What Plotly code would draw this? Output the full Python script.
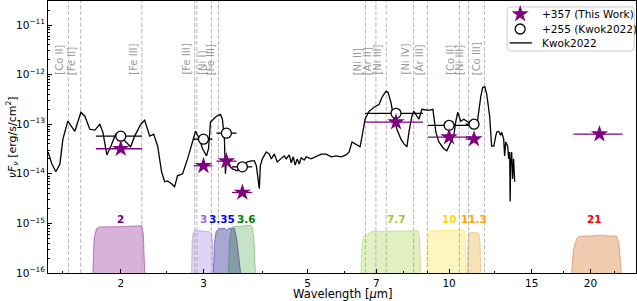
import math
import plotly.graph_objects as go

# ---------------- data ----------------
# Kwok2022 spectrum (wavelength in micron, nuFnu in erg/s/cm^2)
spec_wl = [1.400, 1.427, 1.455, 1.484, 1.506, 1.543, 1.597, 1.645, 1.677, 1.719,
           1.762, 1.805, 1.832, 1.868, 1.905, 1.951, 2.000, 2.040, 2.100, 2.141,
           2.206, 2.249, 2.305, 2.350, 2.397, 2.443, 2.480, 2.516, 2.566, 2.604,
           2.642, 2.708, 2.775, 2.844, 2.886, 2.943, 2.986, 3.045, 3.075, 3.105,
           3.150, 3.197, 3.260, 3.292, 3.324, 3.341, 3.357, 3.406, 3.457, 3.543,
           3.631, 3.721, 3.794, 3.850, 3.888, 3.926, 3.945, 3.964, 4.003, 4.083,
           4.143, 4.183, 4.245, 4.307, 4.392, 4.457, 4.501, 4.568, 4.613, 4.658,
           4.703, 4.750, 4.797, 4.844, 4.915, 4.964, 5.087, 5.213, 5.342, 5.474,
           5.610, 5.749, 5.891, 6.036, 6.126, 6.216, 6.339, 6.464, 6.528, 6.624,
           6.755, 6.922, 7.093, 7.198, 7.340, 7.413, 7.521, 7.632, 7.745, 7.898,
           8.015, 8.133, 8.213, 8.334, 8.416, 8.498, 8.624, 8.710, 8.752, 9.057,
           9.236, 9.373, 9.511, 9.746, 9.890, 10.09, 10.23, 10.33, 10.43, 10.59,
           10.75, 10.91, 11.12, 11.28, 11.45, 11.56, 11.68, 11.79, 11.91, 12.03,
           12.20, 12.32, 12.45, 12.57, 12.63, 12.75, 12.88, 12.94, 13.07, 13.13,
           13.20, 13.33, 13.39, 13.46, 13.49, 13.52, 13.59, 13.65, 13.72, 13.79]
spec_fl = [2.75e-14, 1.58e-14, 1.10e-14, 1.58e-14, 5.0e-14, 1.15e-13, 7.2e-14, 1.74e-13, 1.45e-13, 7.9e-14,
           7.6e-14, 1.0e-13, 6.9e-14, 2.4e-14, 3.6e-14, 6.3e-14, 6.3e-14, 4.6e-14, 3.5e-14, 5.75e-14,
           1.0e-13, 1.2e-13, 5.75e-14, 6.3e-14, 3.6e-14, 1.10e-14, 6.9e-15, 7.2e-15, 6.3e-15, 5.5e-15,
           9.1e-15, 1.0e-14, 2.0e-14, 4.4e-14, 7.2e-14, 5.0e-14, 3.2e-14, 2.3e-14, 3.2e-14, 1.1e-13,
           1.26e-13, 1.45e-13, 1.58e-13, 1.26e-13, 5.0e-14, 1.0e-14, 2.0e-14, 1.45e-14, 1.26e-14, 1.15e-14,
           1.38e-14, 1.74e-14, 1.82e-14, 1.82e-14, 1.45e-14, 6.3e-15, 5.0e-15, 1.45e-14, 2.0e-14, 2.75e-14,
           2.5e-14, 2.0e-14, 2.5e-14, 1.74e-14, 2.0e-14, 2.3e-14, 2.0e-14, 2.4e-14, 1.66e-14, 2.2e-14,
           1.5e-14, 2.0e-14, 1.58e-14, 2.1e-14, 1.9e-14, 2.2e-14, 2.0e-14, 2.2e-14, 2.5e-14, 2.5e-14,
           2.2e-14, 2.3e-14, 2.2e-14, 2.4e-14, 2.75e-14, 4.4e-14, 4.0e-14, 3.5e-14, 5.75e-14, 1.26e-13,
           1.82e-13, 2.2e-13, 2.5e-13, 3.5e-13, 4.6e-13, 4.4e-13, 2.75e-13, 1.26e-13, 7.9e-14, 5.0e-14,
           4.0e-14, 3.5e-14, 6.9e-14, 1.45e-13, 1.82e-13, 1.58e-13, 1.26e-13, 1.74e-13, 2.0e-13, 1.9e-13,
           2.0e-13, 6.9e-14, 4.4e-14, 3.2e-14, 2.9e-14, 4.4e-14, 5.75e-14, 1.1e-13, 1.74e-13, 1.15e-13,
           1.26e-13, 1.15e-13, 1.0e-13, 9.1e-14, 8.7e-14, 1.74e-13, 3.6e-13, 5.5e-13, 5.75e-13, 4.0e-13,
           1.45e-13, 3.6e-14, 3.6e-14, 5.75e-14, 6.9e-14, 7.2e-14, 6.0e-14, 6.9e-14, 5.0e-14, 2.3e-14,
           4.4e-14, 3.6e-14, 2.0e-14, 2.75e-14, 2.75e-15, 1.45e-14, 2.75e-14, 7.9e-15, 2.0e-14, 6.9e-15]

# photometry: +357 (This Work)
tw_wl = [2.0, 3.0, 3.357, 3.63, 7.71, 10.0, 11.3, 20.9]
tw_fl = [3.2e-14, 1.45e-14, 1.8e-14, 4.2e-15, 1.1e-13, 5.5e-14, 5.0e-14, 6.3e-14]
tw_lo = [0.23, 0.14, 0.16, 0.18, 1.09, 0.99, 0.46, 2.5]
tw_hi = [0.22, 0.135, 0.17, 0.18, 1.09, 1.12, 0.26, 2.5]

# photometry: +255 (Kwok2022)
kw_wl = [2.0, 3.0, 3.357, 3.63, 7.71, 10.0, 11.3]
kw_fl = [5.75e-14, 5.0e-14, 6.6e-14, 1.38e-14, 1.66e-13, 9.5e-14, 1.0e-13]
kw_lo = [0.23, 0.14, 0.16, 0.18, 1.09, 0.99, 0.46]
kw_hi = [0.22, 0.135, 0.17, 0.18, 1.09, 1.12, 0.26]

# emission line markers
line_wl = [1.547, 1.644, 2.218, 2.874, 2.905, 3.119, 3.229,
           6.636, 6.985, 7.349, 8.405, 8.991, 10.52, 11.00, 11.89]
line_lab = ["[Co II]", "[Fe II]", "[Fe III]", "[Fe III]", "", "[Ni I]", "[Fe III]",
            "[Ni II]", "[Ar II]", "[Ni III]", "[Ni IV]", "[Ar III]", "[Co II]", "[Ni III]", "[Co III]"]

# filter transmission curves (scaled)
filter_names = ["2", "3", "3.35", "3.6", "7.7", "10", "11.3", "21"]
filter_label_wl = [2.0, 3.0, 3.29, 3.70, 7.71, 10.0, 11.3, 20.4]
filter_wl = [
    [1.744, 1.755, 1.775, 1.80, 2.0, 2.15, 2.218, 2.235, 2.249],
    [2.83, 2.838, 2.855, 2.88, 3.0, 3.10, 3.125, 3.135, 3.14],
    [3.15, 3.165, 3.19, 3.23, 3.33, 3.36, 3.40, 3.49, 3.53, 3.60],
    [3.39, 3.41, 3.44, 3.47, 3.6, 3.78, 3.81, 3.84, 3.87],
    [6.49, 6.53, 6.60, 6.66, 6.85, 7.3, 8.0, 8.58, 8.65, 8.70],
    [8.97, 8.99, 9.04, 9.10, 10.0, 10.7, 10.78, 10.83, 10.86],
    [10.91, 10.95, 11.00, 11.07, 11.3, 11.5, 11.58, 11.64, 11.68],
    [18.23, 18.4, 18.7, 18.99, 20.0, 21.0, 22.0, 22.72, 23.0, 23.27],
]
filter_fl = [
    [1.0e-16, 5.0e-16, 7.8e-16, 8.5e-16, 8.6e-16, 8.8e-16, 9.0e-16, 6.0e-16, 1.0e-16],
    [1.0e-16, 4.5e-16, 6.6e-16, 7.2e-16, 7.0e-16, 6.7e-16, 6.3e-16, 4.5e-16, 1.0e-16],
    [1.0e-16, 4.0e-16, 6.8e-16, 7.8e-16, 8.0e-16, 7.3e-16, 8.0e-16, 8.0e-16, 5.0e-16, 1.0e-16],
    [1.0e-16, 4.5e-16, 7.8e-16, 8.6e-16, 8.8e-16, 9.2e-16, 8.5e-16, 5.0e-16, 1.0e-16],
    [1.0e-16, 4.0e-16, 5.6e-16, 5.7e-16, 6.9e-16, 7.0e-16, 7.0e-16, 7.1e-16, 5.0e-16, 1.0e-16],
    [1.0e-16, 4.5e-16, 6.6e-16, 7.0e-16, 7.2e-16, 7.4e-16, 7.0e-16, 4.5e-16, 1.0e-16],
    [1.0e-16, 4.0e-16, 6.0e-16, 6.5e-16, 6.6e-16, 6.5e-16, 6.0e-16, 4.0e-16, 1.0e-16],
    [1.0e-16, 3.0e-16, 5.0e-16, 5.5e-16, 5.6e-16, 5.8e-16, 5.6e-16, 5.6e-16, 4.0e-16, 1.0e-16],
]
filter_label_col = ["purple", "mediumpurple", "blue", "green", "yellowgreen", "gold", "orange", "red"]
filter_fill = ["rgba(128,0,128,0.3)", "rgba(147,112,219,0.3)", "rgba(40,30,150,0.4)",
               "rgba(0,128,0,0.22)", "rgba(154,205,50,0.3)", "rgba(255,215,0,0.25)",
               "rgba(230,160,20,0.3)", "rgba(210,105,30,0.35)"]
filter_edge = ["rgba(128,0,128,0.45)", "rgba(147,112,219,0.45)", "rgba(40,30,150,0.5)",
               "rgba(0,128,0,0.35)", "rgba(154,205,50,0.45)", "rgba(255,215,0,0.45)",
               "rgba(230,160,20,0.45)", "rgba(210,105,30,0.5)"]

legend_labels = ["+357 (This Work)", "+255 (Kwok2022)", "Kwok2022"]

x_tick_vals = [2, 3, 5, 7, 10, 15, 20]
x_minor_vals = [1.5, 2.5, 4, 6, 8, 9, 12.5, 17.5, 22.5]
y_tick_vals = [1e-16, 1e-15, 1e-14, 1e-13, 1e-12, 1e-11]
y_tick_text = ["10<sup>\u221216</sup>", "10<sup>\u221215</sup>", "10<sup>\u221214</sup>",
               "10<sup>\u221213</sup>", "10<sup>\u221212</sup>", "10<sup>\u221211</sup>"]

YMIN, YMAX = 1e-16, 3.05e-11
XMIN, XMAX = 1.4, 25.0
FONT = "DejaVu Sans"

fig = go.Figure()

# filters
for i in range(len(filter_names)):
    fig.add_trace(go.Scatter(
        x=filter_wl[i], y=filter_fl[i], mode="lines", fill="toself",
        fillcolor=filter_fill[i], line=dict(color=filter_edge[i], width=1),
        showlegend=False, hoverinfo="skip"))

# vertical dashed lines
vx, vy = [], []
for w in line_wl:
    vx += [w, w, None]
    vy += [YMIN, YMAX, None]
fig.add_trace(go.Scatter(x=vx, y=vy, mode="lines",
                         line=dict(color="rgba(170,170,170,0.85)", width=1, dash="4px,2px"),
                         showlegend=False, hoverinfo="skip"))

# spectrum
fig.add_trace(go.Scatter(x=spec_wl, y=spec_fl, mode="lines", name="Kwok2022",
                         line=dict(color="black", width=1.3), showlegend=False))

# +255 circles
fig.add_trace(go.Scatter(
    x=kw_wl, y=kw_fl, mode="markers", name="+255 (Kwok2022)", showlegend=False,
    marker=dict(symbol="circle", size=10, color="white", line=dict(color="black", width=1.3)),
    error_x=dict(type="data", array=kw_hi, arrayminus=kw_lo, color="black", thickness=1.3, width=0)))

# +357 stars
fig.add_trace(go.Scatter(
    x=tw_wl, y=tw_fl, mode="markers", name="+357 (This Work)", showlegend=False,
    marker=dict(symbol="star", size=13, color="purple", line=dict(width=0)),
    error_x=dict(type="data", array=tw_hi, arrayminus=tw_lo, color="purple", thickness=1.3, width=0)))

# ---- legend (drawn in an overlay unit axis) ----
LX0, LX1, LY0, LY1 = 0.781, 0.997, 0.816, 0.978
item_y = [0.952, 0.897, 0.846]
sym_x = 0.803
fig.add_trace(go.Scatter(x=[sym_x], y=[item_y[0]], xaxis="x2", yaxis="y2", mode="markers",
                         marker=dict(symbol="star", size=13, color="purple", line=dict(width=0)),
                         showlegend=False, hoverinfo="skip"))
fig.add_trace(go.Scatter(x=[sym_x], y=[item_y[1]], xaxis="x2", yaxis="y2", mode="markers",
                         marker=dict(symbol="circle", size=10, color="white",
                                     line=dict(color="black", width=1.3)),
                         showlegend=False, hoverinfo="skip"))
fig.add_trace(go.Scatter(x=[0.785, 0.823], y=[item_y[2], item_y[2]], xaxis="x2", yaxis="y2",
                         mode="lines", line=dict(color="black", width=1.3),
                         showlegend=False, hoverinfo="skip"))

rx, ry = 0.006, 0.013
legend_path = (f"M {LX0+rx},{LY0} L {LX1-rx},{LY0} Q {LX1},{LY0} {LX1},{LY0+ry} "
               f"L {LX1},{LY1-ry} Q {LX1},{LY1} {LX1-rx},{LY1} L {LX0+rx},{LY1} "
               f"Q {LX0},{LY1} {LX0},{LY1-ry} L {LX0},{LY0+ry} Q {LX0},{LY0} {LX0+rx},{LY0} Z")
shapes = [dict(type="path", xref="paper", yref="paper", path=legend_path, layer="below",
               line=dict(color="#cccccc", width=1), fillcolor="white")]

annotations = []
for lab, yy in zip(legend_labels, item_y):
    annotations.append(dict(
        x=0.837, y=yy, xref="paper", yref="paper", text=lab, showarrow=False,
        xanchor="left", yanchor="middle", font=dict(family=FONT, size=10.5, color="black")))

for w, lab in zip(line_wl, line_lab):
    if not lab:
        continue
    annotations.append(dict(
        x=math.log10(w), y=math.log10(9.0e-13), xref="x", yref="y", text=lab,
        textangle=-90, showarrow=False, xanchor="right", yanchor="bottom", xshift=-1,
        font=dict(family=FONT, size=10, color="#999999")))

for name, w, col in zip(filter_names, filter_label_wl, filter_label_col):
    annotations.append(dict(
        x=math.log10(w), y=math.log10(1.2e-15), xref="x", yref="y", text="<b>%s</b>" % name,
        showarrow=False, xanchor="center", yanchor="middle",
        font=dict(family=FONT, size=10.5, color=col)))

annotations.append(dict(
    x=-0.061, y=0.50, xref="paper", yref="paper",
    text="<i>\u03bdF<sub>\u03bd</sub></i> [erg/s/cm<sup>2</sup>]",
    textangle=-90, showarrow=False, xanchor="center", yanchor="middle",
    font=dict(family=FONT, size=11, color="black")))

annotations.append(dict(
    x=0.5, y=-0.079, xref="paper", yref="paper",
    text="Wavelength [<i>\u03bc</i>m]",
    showarrow=False, xanchor="center", yanchor="middle",
    font=dict(family=FONT, size=11.5, color="black")))

fig.update_layout(
    width=637, height=301,
    margin=dict(l=48, r=1, t=1, b=28, autoexpand=False),
    paper_bgcolor="white", plot_bgcolor="white",
    font=dict(family=FONT, size=11, color="black"),
    annotations=annotations, shapes=shapes, showlegend=False,
    xaxis2=dict(overlaying="x", range=[0, 1], visible=False, fixedrange=True),
    yaxis2=dict(overlaying="y", range=[0, 1], visible=False, fixedrange=True),
)

y_minor = [m * 10.0 ** e for e in range(-17, -10) for m in range(2, 10)]
fig.update_layout(yaxis=dict(
    type="log", range=[math.log10(YMIN), math.log10(YMAX)],
    tickmode="array", tickvals=y_tick_vals, ticktext=y_tick_text,
    ticks="inside", ticklen=4, tickcolor="black", automargin=False,
    minor=dict(tickmode="array", tickvals=y_minor, ticks="inside", ticklen=2, tickcolor="black"),
    showline=True, linecolor="black", linewidth=1, mirror=True, showgrid=False, zeroline=False,
    tickfont=dict(family=FONT, size=10.5)))

fig.update_layout(xaxis=dict(
    type="log", range=[math.log10(XMIN), math.log10(XMAX)],
    tickmode="array", tickvals=x_tick_vals, ticktext=[str(v) for v in x_tick_vals],
    ticks="inside", ticklen=4, tickcolor="black", automargin=False,
    minor=dict(tickmode="array", tickvals=x_minor_vals, ticks="inside", ticklen=2, tickcolor="black"),
    showline=True, linecolor="black", linewidth=1, mirror=True, showgrid=False, zeroline=False,
    tickfont=dict(family=FONT, size=10.5)))

fig.write_html("out.html", config={"displayModeBar": False},
               post_script="document.body.style.margin='0px';document.body.style.padding='0px';")
